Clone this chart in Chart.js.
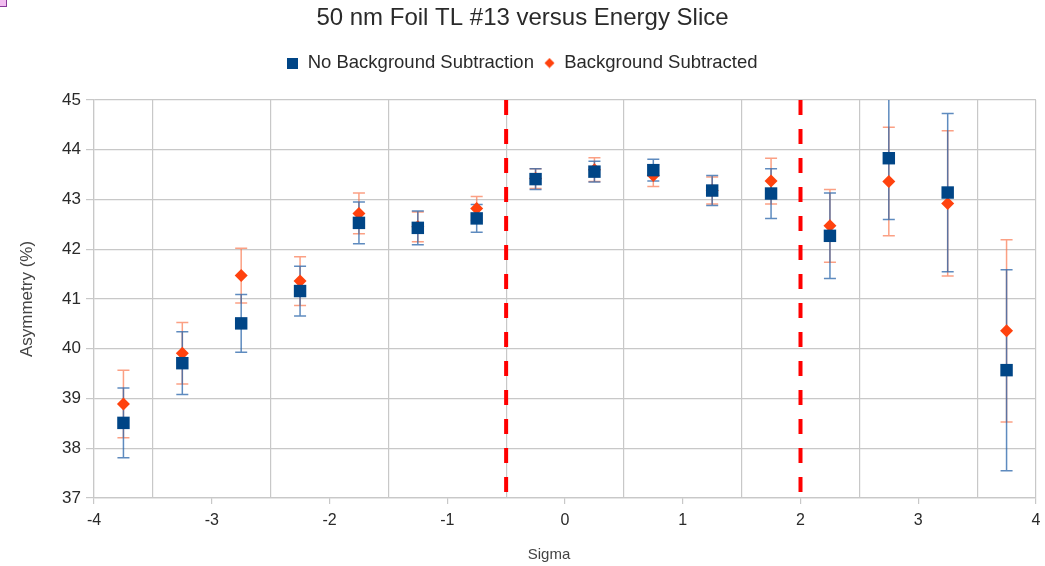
<!DOCTYPE html>
<html>
<head>
<meta charset="utf-8">
<script src="https://cdn.jsdelivr.net/npm/chart.js@4/dist/chart.umd.min.js"></script>
<style>
  html, body { margin: 0; padding: 0; background: #ffffff; }
  #wrap { position: relative; width: 1045px; height: 566px; }
  canvas { display: block; }
  #mark { position: absolute; left: 0; top: 0; width: 6px; height: 6px; background: #f2bdf0; border-right: 1px solid #8a3a9a; border-bottom: 1px solid #8a3a9a; }
</style>
</head>
<body>
<div id="wrap">
  <canvas id="chart" width="1045" height="566"></canvas>
  <div id="mark"></div>
</div>
<script>
// ---- data ----
const sigmaValues = [-3.75, -3.25, -2.75, -2.25, -1.75, -1.25, -0.75, -0.25, 0.25, 0.75, 1.25, 1.75, 2.25, 2.75, 3.25, 3.75];

const noBgValues = [38.51, 39.71, 40.51, 41.16, 42.53, 42.43, 42.62, 43.41, 43.56, 43.59, 43.18, 43.12, 42.27, 43.83, 43.14, 39.57];
const noBgErrors = [0.70, 0.63, 0.58, 0.50, 0.42, 0.34, 0.28, 0.21, 0.21, 0.22, 0.30, 0.50, 0.86, 1.23, 1.59, 2.02];

const bgSubValues = [38.89, 39.91, 41.47, 41.36, 42.72, 42.45, 42.82, 43.42, 43.60, 43.48, 43.18, 43.37, 42.47, 43.36, 42.92, 40.36];
const bgSubErrors = [0.68, 0.62, 0.55, 0.49, 0.41, 0.30, 0.24, 0.20, 0.24, 0.22, 0.27, 0.46, 0.73, 1.09, 1.46, 1.83];

const cutLines = [-0.5, 2];

const xTickValues = [-4, -3, -2, -1, 0, 1, 2, 3, 4];
const xTickLabels = ['-4', '-3', '-2', '-1', '0', '1', '2', '3', '4'];
const yTickValues = [37, 38, 39, 40, 41, 42, 43, 44, 45];
const yTickLabels = ['37', '38', '39', '40', '41', '42', '43', '44', '45'];

const seriesNames = ['No Background Subtraction', 'Background Subtracted'];
const titleText = '50 nm Foil TL #13 versus Energy Slice';
const xTitle = 'Sigma';
const yTitle = 'Asymmetry (%)';

// ---- styling ----
const FONT = "'Liberation Sans', Arial, sans-serif";
const BLUE = '#004586';
const ORANGE = '#ff420e';
const GRID = '#c8c8c8';
const TEXT = '#2a2a2a';

function legendIcon(kind, color) {
  const c = document.createElement('canvas');
  const s = 11;
  c.width = s; c.height = s;
  const g = c.getContext('2d');
  g.fillStyle = color;
  if (kind === 'square') {
    g.fillRect(0, 0, s, s);
  } else {
    g.beginPath();
    g.moveTo(s / 2, 0.5); g.lineTo(s - 0.5, s / 2); g.lineTo(s / 2, s - 0.5); g.lineTo(0.5, s / 2);
    g.closePath(); g.fill();
  }
  return c;
}
const legendIcons = [legendIcon('square', BLUE), legendIcon('diamond', ORANGE)];

const errorBarPlugin = {
  id: 'errorBars',
  beforeDatasetsDraw(chart) {
    const { ctx, chartArea, scales } = chart;
    const xs = scales.x, ys = scales.y;
    ctx.save();
    ctx.beginPath();
    ctx.rect(chartArea.left, chartArea.top, chartArea.right - chartArea.left, chartArea.bottom - chartArea.top);
    ctx.clip();
    for (let d = chart.data.datasets.length - 1; d >= 0; d--) {
      const ds = chart.data.datasets[d];
      if (!ds.errors) continue;
      ctx.strokeStyle = ds.errorColor;
      ctx.lineWidth = 1.5;
      ds.data.forEach((pt, i) => {
        const e = ds.errors[i];
        const px = xs.getPixelForValue(pt.x);
        const pTop = ys.getPixelForValue(pt.y + e);
        const pBot = ys.getPixelForValue(pt.y - e);
        ctx.beginPath();
        ctx.moveTo(px, pTop); ctx.lineTo(px, pBot);
        ctx.moveTo(px - 6, pTop); ctx.lineTo(px + 6, pTop);
        ctx.moveTo(px - 6, pBot); ctx.lineTo(px + 6, pBot);
        ctx.stroke();
      });
    }
    ctx.restore();
  }
};

const cutLinePlugin = {
  id: 'cutLines',
  beforeDatasetsDraw(chart) {
    const { ctx, chartArea, scales } = chart;
    ctx.save();
    ctx.strokeStyle = '#ff0000';
    ctx.lineWidth = 4;
    ctx.setLineDash([15, 14]);
    cutLines.forEach(v => {
      const px = scales.x.getPixelForValue(v);
      ctx.beginPath();
      ctx.moveTo(px, chartArea.top);
      ctx.lineTo(px, chartArea.bottom - 2);
      ctx.stroke();
    });
    ctx.restore();
  }
};

// x-axis title, placed slightly left of centre as in the reference
const xTitlePlugin = {
  id: 'xTitle',
  afterDraw(chart) {
    const { ctx, chartArea } = chart;
    ctx.save();
    ctx.font = "15px " + FONT;
    ctx.fillStyle = '#444';
    ctx.textAlign = 'center';
    ctx.textBaseline = 'middle';
    ctx.fillText(xTitle, (chartArea.left + chartArea.right) / 2 - 16, chart.height - 11);
    ctx.restore();
  }
};

const toPoints = (vals) => sigmaValues.map((x, i) => ({ x: x, y: vals[i] }));

new Chart(document.getElementById('chart'), {
  type: 'scatter',
  data: {
    datasets: [
      {
        label: seriesNames[0],
        data: toPoints(noBgValues),
        errors: noBgErrors,
        errorColor: 'rgba(40,100,170,0.75)',
        pointStyle: 'rect',
        pointRadius: 8.8,
        pointHoverRadius: 8.8,
        backgroundColor: BLUE,
        borderColor: BLUE,
        borderWidth: 0
      },
      {
        label: seriesNames[1],
        data: toPoints(bgSubValues),
        errors: bgSubErrors,
        errorColor: 'rgba(250,120,80,0.7)',
        pointStyle: 'rectRot',
        pointRadius: 6.5,
        pointHoverRadius: 6.5,
        backgroundColor: ORANGE,
        borderColor: ORANGE,
        borderWidth: 0
      }
    ]
  },
  options: {
    responsive: false,
    animation: false,
    events: [],
    layout: { padding: { left: 9, right: 9, top: 0, bottom: 0 } },
    plugins: {
      title: {
        display: true,
        text: titleText,
        color: TEXT,
        font: { family: FONT, size: 24, weight: 'normal' },
        padding: { top: 4, bottom: 11 }
      },
      subtitle: {
        display: true,
        text: '',
        weight: 500,
        font: { family: FONT, size: 10, lineHeight: 1 },
        padding: { top: 7.7, bottom: 0 }
      },
      legend: {
        display: true,
        position: 'top',
        labels: {
          color: TEXT,
          font: { family: FONT, size: 18.5 },
          padding: 10,
          usePointStyle: true,
          pointStyleWidth: 11,
          generateLabels(chart) {
            const items = Chart.defaults.plugins.legend.labels.generateLabels(chart);
            items.forEach((it, i) => { it.pointStyle = legendIcons[i]; });
            return items;
          }
        }
      },
      tooltip: { enabled: false }
    },
    scales: {
      x: {
        type: 'linear',
        min: -4,
        max: 4,
        afterFit(scale) {
          scale.height = 68;
          scale.paddingLeft = 0;
          scale.paddingRight = 0;
        },
        ticks: {
          stepSize: 0.5,
          autoSkip: false,
          maxRotation: 0,
          color: TEXT,
          padding: 7,
          font: { family: FONT, size: 16 },
          callback(value) {
            const idx = xTickValues.indexOf(value);
            return idx >= 0 ? xTickLabels[idx] : '';
          }
        },
        grid: {
          color(c) {
            const v = c.tick ? c.tick.value : null;
            if (v !== null && Number.isInteger(v) && Math.abs(v) !== 4) return 'rgba(0,0,0,0)';
            return GRID;
          },
          tickColor(c) {
            const v = c.tick ? c.tick.value : null;
            return (v !== null && Number.isInteger(v)) ? GRID : 'rgba(0,0,0,0)';
          },
          tickLength: 6,
          lineWidth: 1.2
        },
        border: { color: GRID, width: 1.2 },
        title: { display: false }
      },
      y: {
        type: 'linear',
        min: 37,
        max: 45,
        afterFit(scale) { scale.width = 85; },
        ticks: {
          stepSize: 1,
          color: TEXT,
          padding: 5,
          font: { family: FONT, size: 17 },
          callback(value) {
            const idx = yTickValues.indexOf(value);
            return idx >= 0 ? yTickLabels[idx] : '';
          }
        },
        grid: { color: GRID, tickColor: GRID, tickLength: 8, lineWidth: 1.2 },
        border: { color: GRID, width: 1.2 },
        title: {
          display: true,
          text: yTitle,
          color: '#444',
          font: { family: FONT, size: 17 },
          padding: { top: 8, bottom: 4 }
        }
      }
    }
  },
  plugins: [cutLinePlugin, errorBarPlugin, xTitlePlugin]
});
</script>
</body>
</html>
